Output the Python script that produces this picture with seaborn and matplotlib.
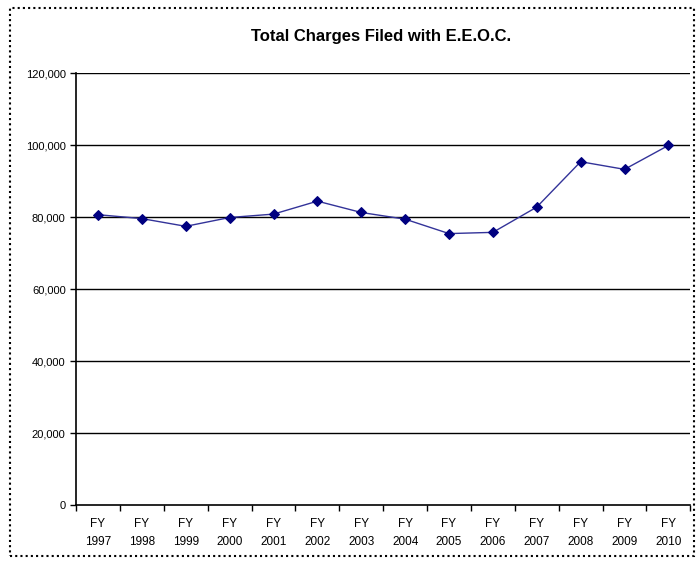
import numpy as np
import pandas as pd
import seaborn as sns
import matplotlib.pyplot as plt
from matplotlib.patches import Rectangle
from matplotlib.ticker import FuncFormatter, FixedLocator

# Data
years = ["1997", "1998", "1999", "2000", "2001", "2002", "2003",
         "2004", "2005", "2006", "2007", "2008", "2009", "2010"]
charges = [80680, 79591, 77444, 79896, 80840, 84442, 81293,
           79432, 75428, 75768, 82792, 95402, 93277, 99922]
tick_labels = ["FY\n" + y for y in years]

sns.set_theme(style="white")
plt.rcParams['font.family'] = ['Liberation Sans', 'DejaVu Sans']
plt.rcParams['text.color'] = 'black'
plt.rcParams['xtick.color'] = 'black'
plt.rcParams['ytick.color'] = 'black'

df = pd.DataFrame({"pos": np.arange(len(years)), "charges": charges})

fig = plt.figure(figsize=(6.98, 5.63), dpi=100)
ax = fig.add_axes([0.109, 0.103, 0.880, 0.767])

sns.lineplot(data=df, x="pos", y="charges", ax=ax, color="#333399",
             linewidth=1.0, marker="D", markersize=5.5,
             markerfacecolor="#000080", markeredgecolor="#000080")

ax.set_xlim(-0.5, len(years) - 0.5)
ax.set_ylim(0, 120000)
ax.set_yticks(np.arange(0, 120001, 20000))
ax.yaxis.set_major_formatter(FuncFormatter(lambda v, p: f"{int(v):,}"))
for v in np.arange(20000, 120001, 20000):
    ax.axhline(v, color="black", linewidth=1.0, zorder=0)

ax.xaxis.set_major_locator(FixedLocator(np.arange(-0.5, len(years), 1.0)))
ax.xaxis.set_major_formatter(FuncFormatter(lambda v, p: ""))
ax.xaxis.set_minor_locator(FixedLocator(np.arange(len(years))))
ax.set_xticklabels(tick_labels, minor=True, linespacing=1.7)
ax.tick_params(axis="x", which="major", direction="out", length=4,
               width=1, color="black", bottom=True)
ax.tick_params(axis="x", which="minor", length=0, labelsize=8.5, pad=9,
               labelcolor="black")
ax.tick_params(axis="y", direction="out", length=4, width=1,
               color="black", left=True, labelsize=8, labelcolor="black")
ax.set_xlabel("")
ax.set_ylabel("")

for s in ["top", "right"]:
    ax.spines[s].set_visible(False)
for s in ["left", "bottom"]:
    ax.spines[s].set_color("black")
    ax.spines[s].set_linewidth(1.2)

fig.text(0.546, 0.935, "Total Charges Filed with E.E.O.C.", ha="center",
         va="center", fontsize=12, fontweight="bold", color="black")

fig.patches.append(Rectangle((0.014, 0.012), 0.98, 0.973, transform=fig.transFigure,
                             fill=False, edgecolor="black", linestyle=(0, (1, 1.5)),
                             linewidth=1.5))

fig.savefig("out.png", dpi=100)
